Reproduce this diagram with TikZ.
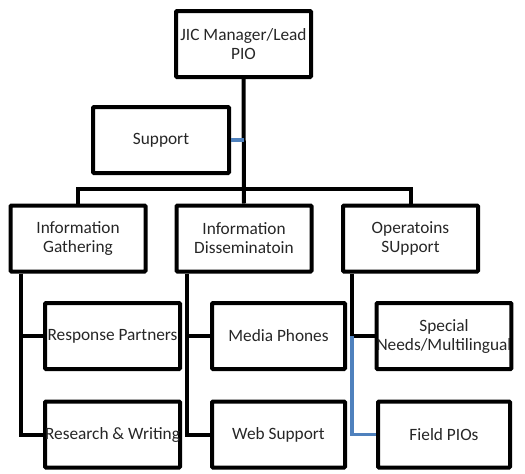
\documentclass[tikz,border=0pt]{standalone}
\usepackage{fontspec}
\setmainfont{Carlito}
\usetikzlibrary{positioning}
\definecolor{linkblue}{RGB}{79,129,189}
\definecolor{boxtext}{RGB}{38,38,38}
\begin{document}
\begin{tikzpicture}[x=1pt,y=-1pt,
  box/.style={draw,line width=4pt,rounded corners=1pt,align=center,
    minimum width=135pt,minimum height=66pt,inner sep=0pt,text=boxtext,
    font=\fontsize{17.3}{19}\selectfont},
  link/.style={line width=4pt},
  bluelink/.style={line width=3.5pt,linkblue}]
  \useasboundingbox (0,0) rectangle (525,474);

  \node[box] (lead) at (243.5,44) {JIC Manager/Lead\\PIO};
  \node[box,minimum width=136pt] (support) at (161,140) {Support};

  \node[box] (gather) at (78,238.5) {Information\\Gathering};
  \node[box] (dissem) at (244,238.5) {Information\\Disseminatoin};
  \node[box] (ops) at (410.5,238.5) {Operatoins\\SUpport};

  \node[box] (partners) at (112.5,336) {Response Partners};
  \node[box] (writing) at (112.5,434.5) {Research \& Writing};
  \node[box,minimum width=133pt] (phones) at (278.5,336) {Media Phones};
  \node[box,minimum width=133pt] (web) at (278.5,434.5) {Web Support};
  \node[box,minimum width=132pt] (needs) at (444,336) {Special\\Needs/Multilingual};
  \node[box,minimum width=132pt] (field) at (444,434.5) {Field PIOs};

  \coordinate (bar) at (244,189);
  \draw[link] (lead.south) -- (dissem.north);
  \draw[bluelink] (support.east) -- (support.east -| lead.south);
  \draw[link] (gather.north) |- (bar) -| (ops.north);

  \draw[link] ([xshift=12pt]gather.south west) |- (partners.west);
  \draw[link] ([xshift=12pt]gather.south west) |- (writing.west);
  \draw[link] ([xshift=12pt]dissem.south west) |- (phones.west);
  \draw[link] ([xshift=12pt]dissem.south west) |- (web.west);
  \draw[link] ([xshift=11pt]ops.south west) |- (needs.west);
  \coordinate (split) at ([xshift=11pt]ops.south west |- needs.west);
  \draw[bluelink] (split) |- (field.west);
\end{tikzpicture}
\end{document}
